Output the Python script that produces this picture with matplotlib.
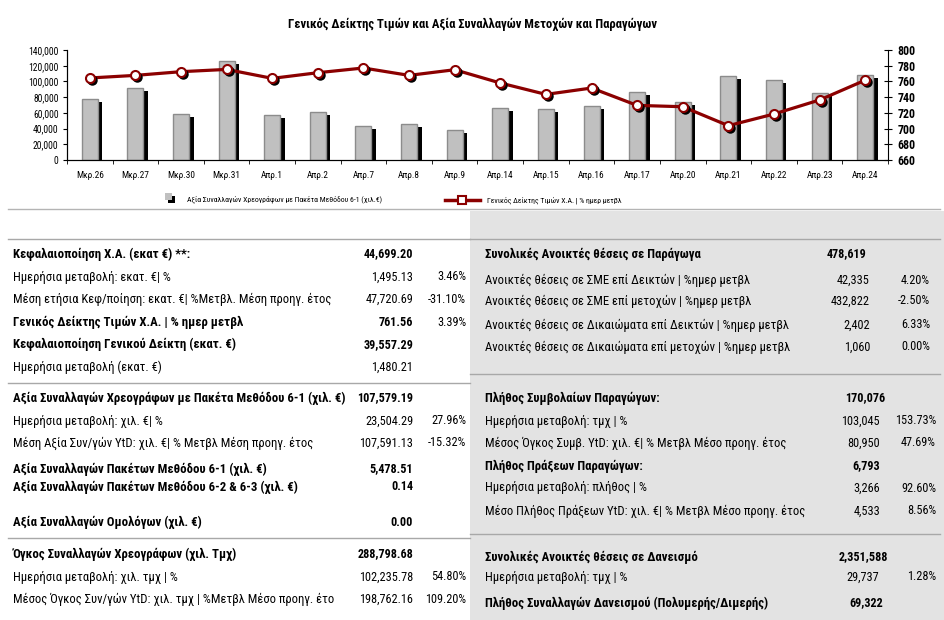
import numpy as np
import matplotlib
matplotlib.use('Agg')
import matplotlib.pyplot as plt
from matplotlib import font_manager
from matplotlib.transforms import ScaledTranslation
from matplotlib.patches import Rectangle

# chart data
dates = ['Μκρ.26', 'Μκρ.27', 'Μκρ.30', 'Μκρ.31', 'Απρ.1', 'Απρ.2', 'Απρ.7', 'Απρ.8', 'Απρ.9',
         'Απρ.14', 'Απρ.15', 'Απρ.16', 'Απρ.17', 'Απρ.20', 'Απρ.21', 'Απρ.22', 'Απρ.23', 'Απρ.24']
trade_value = [78000, 92000, 59000, 126000, 57000, 60500, 43000, 46000, 38500,
               66500, 65500, 68500, 86000, 73500, 106500, 101500, 85000, 107579]
gen_index = [764.4, 767.7, 772.4, 775.3, 763.9, 771.1, 777.1, 767.7, 774.9,
             758.0, 743.5, 751.6, 729.5, 727.8, 703.7, 718.5, 736.4, 761.56]

title = 'Γενικός Δείκτης Τιμών και Αξία Συναλλαγών Μετοχών και Παραγώγων'
bar_label = 'Αξία Συναλλαγών Χρεογράφων με Πακέτα Μεθόδου 6-1 (χιλ.€)'
line_label = 'Γενικός Δείκτης Τιμών Χ.Α. | % ημερ μετβλ'

# table data, left block
left_labels = ['Κεφαλαιοποίηση Χ.Α. (εκατ €) **:',
               'Ημερήσια μεταβολή: εκατ. €| %',
               'Μέση ετήσια Κεφ/ποίηση: εκατ. €| %Μετβλ. Μέση προηγ. έτος',
               'Γενικός Δείκτης Τιμών Χ.Α. | % ημερ μετβλ',
               'Κεφαλαιοποίηση Γενικού Δείκτη (εκατ. €)',
               'Ημερήσια μεταβολή (εκατ. €)',
               'Αξία Συναλλαγών Χρεογράφων με Πακέτα Μεθόδου 6-1 (χιλ. €)',
               'Ημερήσια μεταβολή: χιλ. €| %',
               'Μέση Αξία Συν/γών YtD: χιλ. €| % Μετβλ Μέση προηγ. έτος',
               'Αξία Συναλλαγών Πακέτων Μεθόδου 6-1 (χιλ. €)',
               'Αξία Συναλλαγών Πακέτων Μεθόδου 6-2 & 6-3 (χιλ. €)',
               'Αξία Συναλλαγών Ομολόγων (χιλ. €)',
               'Όγκος Συναλλαγών Χρεογράφων (χιλ. Τμχ)',
               'Ημερήσια μεταβολή: χιλ. τμχ | %',
               'Μέσος Όγκος Συν/γών YtD: χιλ. τμχ | %Μετβλ Μέσο προηγ. έτο']
left_values = ['44,699.20', '1,495.13', '47,720.69', '761.56', '39,557.29', '1,480.21',
               '107,579.19', '23,504.29', '107,591.13', '5,478.51', '0.14', '0.00',
               '288,798.68', '102,235.78', '198,762.16']
left_pcts = ['', '3.46%', '-31.10%', '3.39%', '', '', '', '27.96%', '-15.32%', '', '', '',
             '', '54.80%', '109.20%']
left_bold = [1, 0, 0, 1, 1, 0, 1, 0, 0, 1, 1, 1, 1, 0, 0]

# table data, right block
right_labels = ['Συνολικές Ανοικτές θέσεις σε Παράγωγα',
                'Ανοικτές θέσεις σε ΣΜΕ επί Δεικτών | %ημερ μετβλ',
                'Ανοικτές θέσεις σε ΣΜΕ επί μετοχών | %ημερ μετβλ',
                'Ανοικτές θέσεις σε Δικαιώματα επί Δεικτών | %ημερ μετβλ',
                'Ανοικτές θέσεις σε Δικαιώματα επί μετοχών | %ημερ μετβλ',
                'Πλήθος Συμβολαίων Παραγώγων:',
                'Ημερήσια μεταβολή: τμχ | %',
                'Μέσος Όγκος Συμβ. YtD: χιλ. €| % Μετβλ Μέσο προηγ. έτος',
                'Πλήθος Πράξεων Παραγώγων:',
                'Ημερήσια μεταβολή: πλήθος | %',
                'Μέσο Πλήθος Πράξεων YtD: χιλ. €| % Μετβλ Μέσο προηγ. έτος',
                'Συνολικές Ανοικτές θέσεις σε Δανεισμό',
                'Ημερήσια μεταβολή: τμχ | %',
                'Πλήθος Συναλλαγών Δανεισμού (Πολυμερής/Διμερής)']
right_values = ['478,619', '42,335', '432,822', '2,402', '1,060', '170,076', '103,045', '80,950',
                '6,793', '3,266', '4,533', '2,351,588', '29,737', '69,322']
right_pcts = ['', '4.20%', '-2.50%', '6.33%', '0.00%', '', '153.73%', '47.69%', '', '92.60%',
              '8.56%', '', '1.28%', '']
right_bold = [1, 0, 0, 0, 0, 1, 0, 0, 1, 0, 0, 1, 0, 1]

# layout (pixels)
W, H = 944, 620
left_y = [254, 277, 299.5, 322, 344.5, 367, 398, 421, 443, 469, 487, 522, 554, 577, 599.5]
right_y = [254, 280, 301, 325, 347, 398, 421, 443, 466, 488, 511, 557, 577, 603]
right_val_x = [866, 870, 870, 870, 870, 885, 880, 880, 880, 880, 880, 888, 879, 883]

# look for a narrow face, the original uses a condensed Arial-like font
names = {f.name for f in font_manager.fontManager.ttflist}
narrow = 'Liberation Sans'
stretch = 'normal'
for cand in ['Liberation Sans Narrow', 'Arial Narrow', 'DejaVu Sans Condensed',
             'Roboto Condensed', 'Open Sans Condensed', 'Noto Sans Condensed']:
    if cand in names:
        narrow = cand
        break
else:
    for f in font_manager.fontManager.ttflist:
        if f.stretch in ('condensed', 'semi-condensed') and f.name in ('DejaVu Sans', 'Roboto', 'Noto Sans', 'Open Sans'):
            narrow, stretch = f.name, f.stretch
            break
fam = [narrow, 'DejaVu Sans']

fig = plt.figure(figsize=(W / 100, H / 100), dpi=100)
renderer = fig.canvas.get_renderer()

# overlay in pixel coordinates for the table part
bg = fig.add_axes([0, 0, 1, 1], zorder=0)
bg.set_xlim(0, W)
bg.set_ylim(H, 0)
bg.axis('off')


def fit(s, target, weight='normal', cap=10.0):
    t = bg.text(0, 0, s, fontsize=10, family=fam, stretch=stretch, weight=weight)
    w = t.get_window_extent(renderer).width
    t.remove()
    return min(cap, 10 * target / w)


fs = fit('Μέση ετήσια Κεφ/ποίηση: εκατ. €| %Μετβλ. Μέση προηγ. έτος', 319)
fsb = fit('Αξία Συναλλαγών Χρεογράφων με Πακέτα Μεθόδου 6-1 (χιλ. €)', 332, 'bold')
fsn = fit('47,720.69', 48)
fsnb = fit('107,579.19', 56, 'bold')
fs_title = fit(title, 368, 'bold')
fs_leg = fit(bar_label, 194)
fs_ly = fit('140,000', 30)
fs_x = fit('Μκρ.26', 28)
fs_ry = fit('800', 18, 'bold')

bg.add_patch(Rectangle((470, 211), W - 470, H - 211, color='#E3E3E3', lw=0))
bg.plot([8, 940], [208.5, 208.5], color='#B4B4B4', lw=1)
bg.plot([8, 470], [239, 239], color='#A8A8A8', lw=1)
bg.plot([470, 940], [239, 239], color='#A8A8A8', lw=1)
bg.plot([8, 470], [383, 383], color='#A8A8A8', lw=1)
bg.plot([470, 940], [374, 374], color='#A8A8A8', lw=1)
bg.plot([8, 470], [538, 538], color='#A8A8A8', lw=1)
bg.plot([470, 940], [534, 534], color='#A8A8A8', lw=1)

txt = dict(family=fam, stretch=stretch, va='center')
for i in range(len(left_labels)):
    b = left_bold[i]
    w = 'bold' if b else 'normal'
    bg.text(13, left_y[i], left_labels[i], fontsize=fsb if b else fs, weight=w, **txt)
    bg.text(413, left_y[i], left_values[i], fontsize=fsnb if b else fsn, weight=w, ha='right', **txt)
    bg.text(466, left_y[i], left_pcts[i], fontsize=fsn, ha='right', **txt)

for i in range(len(right_labels)):
    b = right_bold[i]
    w = 'bold' if b else 'normal'
    bg.text(485, right_y[i], right_labels[i], fontsize=fsb if b else fs, weight=w, **txt)
    bg.text(right_val_x[i], right_y[i], right_values[i], fontsize=fsnb if b else fsn, weight=w,
            ha='right', **txt)
    pct_x = 930 if i < 5 else 936
    bg.text(pct_x, right_y[i], right_pcts[i], fontsize=fsn, ha='right', **txt)

# title and legend
bg.text(472, 24.5, title, fontsize=fs_title, weight='bold', ha='center', **txt)
bg.add_patch(Rectangle((168, 196), 7, 7, color='black', lw=0))
bg.add_patch(Rectangle((165, 193), 7, 7, color='#C0C0C0', lw=0))
bg.text(187, 199, bar_label, fontsize=fs_leg, **txt)
bg.plot([445, 480], [200, 200], color='#8B0000', lw=2.5)
bg.plot([462], [200], marker='s', ms=6, mfc='white', mec='#8B0000', mew=1.5)
bg.text(487, 200, line_label, fontsize=fs_leg, **txt)

# chart
ax = fig.add_axes([67 / W, 1 - 160 / H, (888 - 67) / W, 110 / H], zorder=1)
ax.patch.set_alpha(0)
x = np.arange(len(dates))

shift = ax.transData + ScaledTranslation(0.045, -0.03, fig.dpi_scale_trans)
shadow_bars = ax.bar(x, trade_value, width=0.35, color='black', zorder=1)
for p in shadow_bars:
    p.set_transform(shift)
ax.bar(x, trade_value, width=0.35, color='#C0C0C0', edgecolor='#8C8C8C', linewidth=1, zorder=2)

ax.set_xlim(-0.5, len(dates) - 0.5)
ax.set_ylim(0, 140000)
ax.set_yticks(range(0, 140001, 20000))
ax.set_yticklabels(['{:,}'.format(v) for v in range(0, 140001, 20000)],
                   family=fam, stretch=stretch, fontsize=fs_ly)
ax.set_xticks(x)
ax.set_xticklabels(dates, family=fam, stretch=stretch, fontsize=fs_x)
ax.set_xticks(np.arange(-0.5, len(dates), 1), minor=True)
ax.tick_params(axis='x', which='major', length=0, pad=8)
ax.tick_params(axis='x', which='minor', length=3, direction='out')
ax.tick_params(axis='y', length=3, direction='out', pad=3)
ax.spines['top'].set_visible(False)
ax.spines['right'].set_visible(False)

ax2 = ax.twinx()
ax2.plot(x, gen_index, color='#8B0000', lw=2.3, zorder=3)
mshift = ax2.transData + ScaledTranslation(0.02, -0.02, fig.dpi_scale_trans)
ax2.plot(x, gen_index, 'o', ms=6.5, color='black', transform=mshift, zorder=4)
ax2.plot(x, gen_index, 'o', ms=6.5, mfc='white', mec='#8B0000', mew=1.5, zorder=5)
ax2.set_ylim(660, 800)
ax2.set_yticks(range(660, 801, 20))
ax2.set_yticklabels([str(v) for v in range(660, 801, 20)],
                    family=fam, stretch=stretch, fontsize=fs_ry, weight='bold')
ax2.tick_params(axis='y', direction='inout', length=6, pad=4)
ax2.spines['top'].set_visible(False)

plt.savefig('out.png', dpi=100)
